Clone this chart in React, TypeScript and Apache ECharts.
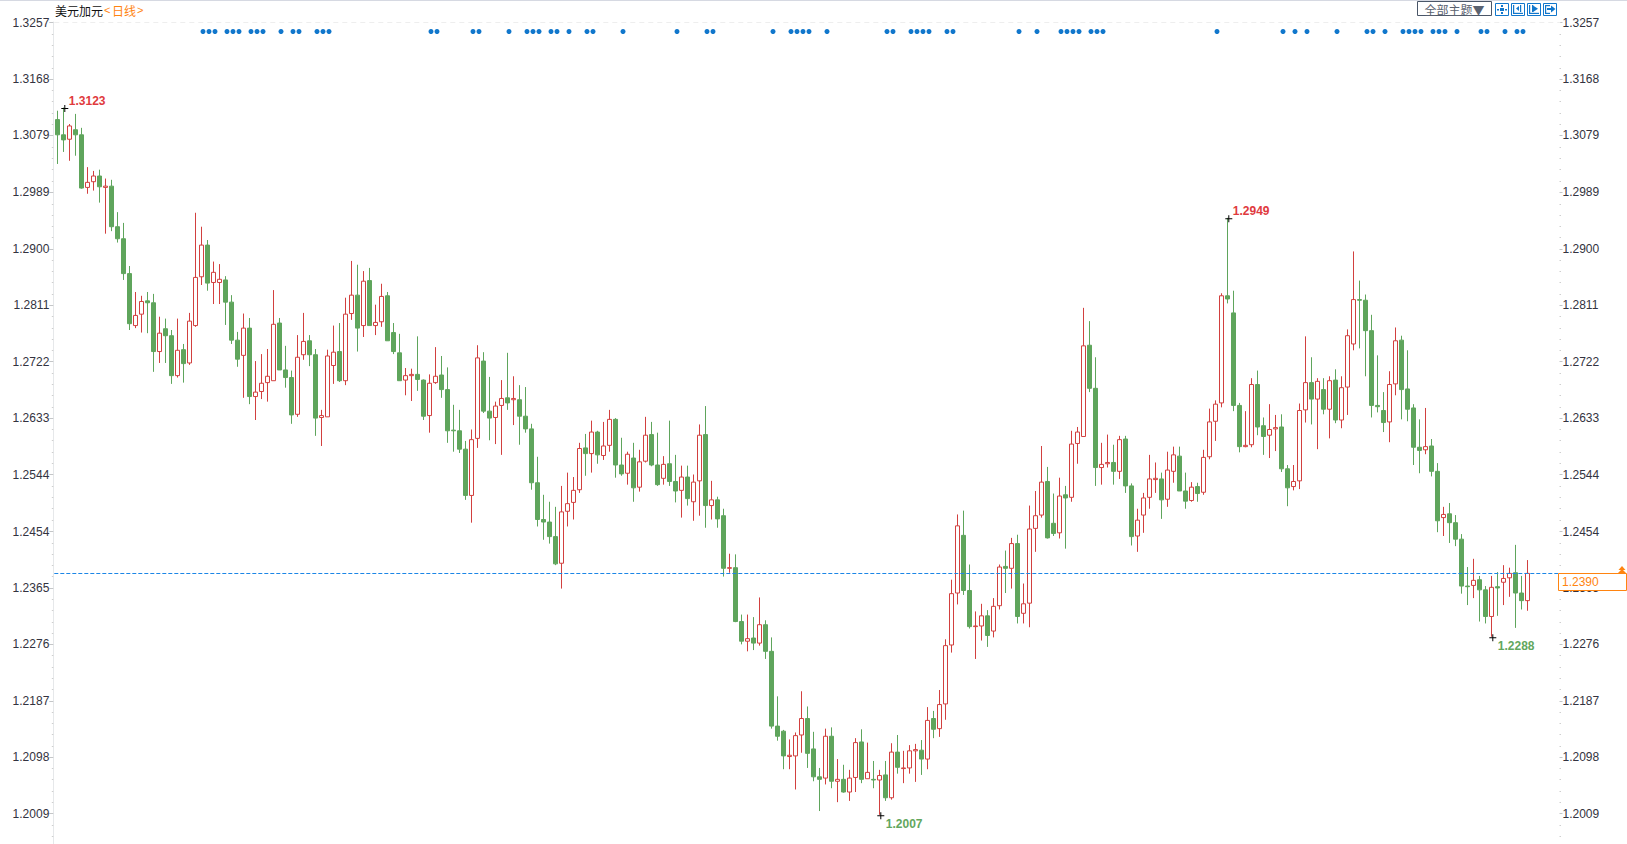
import React, { useEffect, useRef } from "react";
import * as echarts from "echarts";

const opens = [
1.3104,1.3080,1.3073,1.3088,1.3080,1.2997,1.3006,1.3015,1.2997,1.2999,
1.2935,1.2916,1.2861,1.2779,1.2797,1.2818,1.2815,1.2738,1.2774,1.2763,
1.2700,1.2741,1.2720,1.2779,1.2856,1.2906,1.2847,1.2847,1.2851,1.2816,
1.2756,1.2732,1.2775,1.2667,1.2675,1.2689,1.2692,1.2783,1.2709,1.2697,
1.2639,1.2733,1.2755,1.2733,1.2634,1.2635,1.2716,1.2738,1.2692,1.2798,
1.2827,1.2779,1.2850,1.2779,1.2785,1.2826,1.2768,1.2736,1.2693,1.2700,
1.2702,1.2693,1.2637,1.2689,1.2701,1.2678,1.2614,1.2613,1.2584,1.2511,
1.2601,1.2723,1.2644,1.2634,1.2653,1.2665,1.2662,1.2662,1.2636,1.2616,
1.2531,1.2473,1.2469,1.2446,1.2404,1.2486,1.2500,1.2520,1.2586,1.2577,
1.2611,1.2574,1.2590,1.2631,1.2559,1.2546,1.2570,1.2524,1.2565,1.2607,
1.2559,1.2538,1.2561,1.2533,1.2519,1.2540,1.2501,1.2534,1.2607,1.2495,
1.2504,1.2479,1.2396,1.2397,1.2312,1.2281,1.2286,1.2278,1.2307,1.2265,
1.2147,1.2139,1.2099,1.2100,1.2133,1.2159,1.2111,1.2067,1.2065,1.2131,
1.2060,1.2063,1.2043,1.2066,1.2122,1.2064,1.2063,1.2062,1.2070,1.2034,
1.2106,1.2080,1.2081,1.2108,1.2109,1.2095,1.2159,1.2143,1.2182,1.2275,
1.2357,1.2448,1.2361,1.2304,1.2305,1.2321,1.2297,1.2337,1.2399,1.2396,
1.2435,1.2325,1.2341,1.2459,1.2480,1.2533,1.2467,1.2452,1.2512,1.2508,
1.2593,1.2604,1.2748,1.2680,1.2555,1.2561,1.2563,1.2549,1.2600,1.2526,
1.2447,1.2480,1.2508,1.2536,1.2537,1.2505,1.2549,1.2573,1.2518,1.2503,
1.2525,1.2516,1.2572,1.2628,1.2657,1.2826,1.2799,1.2653,1.2588,1.2591,
1.2686,1.2621,1.2606,1.2616,1.2619,1.2553,1.2525,1.2534,1.2646,1.2689,
1.2663,1.2678,1.2647,1.2693,1.2630,1.2682,1.2750,1.2820,1.2819,1.2771,
1.2653,1.2645,1.2627,1.2687,1.2756,1.2679,1.2649,1.2587,1.2583,1.2589,
1.2549,1.2476,1.2482,1.2468,1.2442,1.2368,1.2369,1.2378,1.2362,1.2320,
1.2367,1.2374,1.2381,1.2389,1.2357,1.2345];

const closes = [
1.3080,1.3072,1.3094,1.3080,1.2996,1.3005,1.3015,1.2998,1.2999,1.2935,
1.2916,1.2861,1.2782,1.2795,1.2817,1.2815,1.2738,1.2767,1.2763,1.2700,
1.2740,1.2719,1.2786,1.2855,1.2906,1.2846,1.2863,1.2852,1.2816,1.2756,
1.2726,1.2775,1.2667,1.2674,1.2688,1.2699,1.2781,1.2709,1.2697,1.2638,
1.2729,1.2754,1.2733,1.2633,1.2637,1.2731,1.2737,1.2692,1.2797,1.2827,
1.2775,1.2849,1.2779,1.2784,1.2825,1.2755,1.2738,1.2692,1.2700,1.2702,
1.2694,1.2636,1.2688,1.2699,1.2678,1.2613,1.2613,1.2584,1.2511,1.2599,
1.2728,1.2644,1.2633,1.2652,1.2664,1.2657,1.2664,1.2636,1.2616,1.2531,
1.2473,1.2469,1.2446,1.2403,1.2485,1.2498,1.2519,1.2585,1.2577,1.2611,
1.2575,1.2589,1.2631,1.2559,1.2545,1.2576,1.2523,1.2564,1.2606,1.2559,
1.2528,1.2560,1.2533,1.2518,1.2540,1.2506,1.2532,1.2606,1.2495,1.2504,
1.2474,1.2396,1.2397,1.2312,1.2281,1.2285,1.2278,1.2307,1.2265,1.2147,
1.2131,1.2100,1.2101,1.2132,1.2159,1.2104,1.2067,1.2063,1.2131,1.2060,
1.2063,1.2043,1.2065,1.2121,1.2063,1.2074,1.2062,1.2069,1.2034,1.2106,
1.2082,1.2081,1.2108,1.2110,1.2095,1.2156,1.2142,1.2181,1.2274,1.2356,
1.2463,1.2361,1.2304,1.2305,1.2321,1.2290,1.2336,1.2398,1.2396,1.2435,
1.2320,1.2340,1.2458,1.2479,1.2532,1.2444,1.2451,1.2510,1.2507,1.2592,
1.2611,1.2747,1.2680,1.2555,1.2560,1.2563,1.2549,1.2599,1.2526,1.2446,
1.2472,1.2507,1.2537,1.2538,1.2504,1.2551,1.2575,1.2518,1.2502,1.2524,
1.2514,1.2571,1.2627,1.2655,1.2826,1.2821,1.2653,1.2588,1.2590,1.2686,
1.2619,1.2604,1.2615,1.2618,1.2553,1.2523,1.2533,1.2645,1.2689,1.2663,
1.2691,1.2647,1.2692,1.2630,1.2681,1.2763,1.2820,1.2819,1.2771,1.2653,
1.2651,1.2626,1.2686,1.2755,1.2678,1.2647,1.2587,1.2582,1.2588,1.2549,
1.2471,1.2481,1.2468,1.2442,1.2368,1.2367,1.2377,1.2362,1.2320,1.2366,
1.2365,1.2380,1.2388,1.2357,1.2345,1.2388];

const highs = [
1.3118,1.3123,1.3097,1.3113,1.3091,1.3029,1.3023,1.3025,1.3011,1.3009,
1.2958,1.2941,1.2873,1.2832,1.2826,1.2832,1.2829,1.2793,1.2790,1.2772,
1.2790,1.2750,1.2799,1.2957,1.2935,1.2914,1.2880,1.2876,1.2857,1.2827,
1.2769,1.2798,1.2791,1.2723,1.2734,1.2742,1.2835,1.2791,1.2747,1.2708,
1.2764,1.2799,1.2764,1.2742,1.2646,1.2741,1.2779,1.2783,1.2823,1.2881,
1.2875,1.2865,1.2870,1.2812,1.2845,1.2832,1.2783,1.2766,1.2712,1.2711,
1.2762,1.2694,1.2702,1.2745,1.2731,1.2713,1.2654,1.2646,1.2597,1.2615,
1.2748,1.2737,1.2698,1.2659,1.2693,1.2736,1.2699,1.2685,1.2682,1.2624,
1.2572,1.2512,1.2501,1.2493,1.2526,1.2547,1.2540,1.2594,1.2608,1.2629,
1.2613,1.2627,1.2646,1.2633,1.2602,1.2580,1.2594,1.2583,1.2635,1.2627,
1.2610,1.2573,1.2629,1.2575,1.2558,1.2558,1.2544,1.2623,1.2652,1.2534,
1.2509,1.2490,1.2419,1.2418,1.2323,1.2323,1.2319,1.2350,1.2314,1.2287,
1.2194,1.2141,1.2126,1.2137,1.2202,1.2178,1.2138,1.2081,1.2143,1.2145,
1.2095,1.2086,1.2078,1.2128,1.2142,1.2121,1.2092,1.2078,1.2092,1.2120,
1.2133,1.2108,1.2117,1.2119,1.2125,1.2177,1.2171,1.2204,1.2284,1.2378,
1.2481,1.2487,1.2402,1.2328,1.2340,1.2330,1.2349,1.2402,1.2424,1.2444,
1.2449,1.2372,1.2495,1.2518,1.2589,1.2556,1.2514,1.2539,1.2526,1.2613,
1.2619,1.2807,1.2786,1.2729,1.2594,1.2607,1.2591,1.2605,1.2605,1.2530,
1.2490,1.2515,1.2575,1.2563,1.2547,1.2580,1.2588,1.2588,1.2547,1.2532,
1.2531,1.2583,1.2648,1.2661,1.2830,1.2949,1.2834,1.2657,1.2644,1.2696,
1.2708,1.2634,1.2655,1.2638,1.2639,1.2559,1.2559,1.2656,1.2762,1.2729,
1.2696,1.2696,1.2699,1.2710,1.2699,1.2773,1.2896,1.2850,1.2828,1.2796,
1.2732,1.2674,1.2707,1.2776,1.2763,1.2740,1.2655,1.2631,1.2649,1.2600,
1.2562,1.2493,1.2499,1.2480,1.2450,1.2398,1.2411,1.2384,1.2368,1.2384,
1.2390,1.2401,1.2397,1.2433,1.2384,1.2409];

const lows = [
1.3034,1.3053,1.3039,1.3047,1.2995,1.2987,1.2992,1.2973,1.2924,1.2928,
1.2910,1.2851,1.2772,1.2775,1.2768,1.2767,1.2706,1.2720,1.2720,1.2687,
1.2697,1.2689,1.2717,1.2777,1.2843,1.2834,1.2813,1.2813,1.2780,1.2750,
1.2714,1.2665,1.2655,1.2630,1.2663,1.2659,1.2692,1.2709,1.2681,1.2624,
1.2635,1.2725,1.2715,1.2605,1.2589,1.2635,1.2687,1.2690,1.2685,1.2788,
1.2738,1.2761,1.2779,1.2764,1.2777,1.2755,1.2734,1.2692,1.2669,1.2660,
1.2676,1.2630,1.2610,1.2687,1.2665,1.2594,1.2580,1.2578,1.2504,1.2468,
1.2586,1.2641,1.2598,1.2592,1.2575,1.2646,1.2622,1.2591,1.2610,1.2520,
1.2462,1.2441,1.2435,1.2401,1.2364,1.2462,1.2473,1.2515,1.2542,1.2547,
1.2561,1.2567,1.2580,1.2539,1.2542,1.2528,1.2501,1.2517,1.2563,1.2557,
1.2526,1.2528,1.2526,1.2500,1.2476,1.2495,1.2471,1.2479,1.2460,1.2473,
1.2460,1.2383,1.2389,1.2311,1.2276,1.2265,1.2267,1.2274,1.2253,1.2143,
1.2124,1.2079,1.2079,1.2047,1.2105,1.2081,1.2060,1.2013,1.2055,1.2049,
1.2027,1.2042,1.2029,1.2043,1.2057,1.2064,1.2049,1.2007,1.2029,1.2031,
1.2072,1.2057,1.2072,1.2059,1.2070,1.2079,1.2128,1.2130,1.2157,1.2263,
1.2339,1.2354,1.2301,1.2253,1.2282,1.2272,1.2287,1.2331,1.2357,1.2364,
1.2309,1.2309,1.2303,1.2422,1.2476,1.2443,1.2447,1.2443,1.2427,1.2501,
1.2561,1.2604,1.2674,1.2526,1.2528,1.2555,1.2528,1.2537,1.2515,1.2432,
1.2422,1.2452,1.2490,1.2515,1.2474,1.2493,1.2531,1.2518,1.2490,1.2501,
1.2501,1.2512,1.2568,1.2597,1.2650,1.2814,1.2644,1.2579,1.2587,1.2587,
1.2606,1.2575,1.2570,1.2581,1.2548,1.2494,1.2519,1.2521,1.2626,1.2623,
1.2584,1.2639,1.2601,1.2625,1.2617,1.2638,1.2740,1.2743,1.2699,1.2634,
1.2642,1.2611,1.2595,1.2669,1.2631,1.2628,1.2559,1.2546,1.2576,1.2541,
1.2453,1.2447,1.2436,1.2431,1.2356,1.2338,1.2349,1.2312,1.2309,1.2288,
1.2321,1.2338,1.2351,1.2302,1.2331,1.2329];

const tickLabels = [1.3257,1.3168,1.3079,1.2989,1.2900,1.2811,1.2722,1.2633,1.2544,1.2454,1.2365,1.2276,1.2187,1.2098,1.2009];
const eventIndexes = [24,25,26,28,29,30,32,33,34,37,39,40,43,44,45,62,63,69,70,75,78,79,80,82,83,85,88,89,94,
103,108,109,119,122,123,124,125,128,138,139,142,143,144,145,148,149,160,163,167,168,
169,170,172,173,174,193,204,206,208,213,218,219,221,224,225,226,227,229,230,231,233,237,238,241,243,244];
const eventRowValue = 1.3243;
const peakIndexes = [1,195];
const peakValues = [1.3123,1.2949];
const troughIndexes = [137,239];
const troughValues = [1.2007,1.2288];
const lastLineValue = 1.2388;
const lastPriceLabel = "1.2390";
const instrumentName = "美元加元";
const periodName = "日线";
const themeLabel = "全部主题▼";

const AXIS_MIN = 1.1961;
const AXIS_MAX = 1.3258;
const RED = "#d2403f";
const GREEN = "#5fa55c";
const BLUE = "#1177cc";
const ORANGE = "#ff8410";
const LABEL_FONT = "'Liberation Sans', Arial, sans-serif";
const CJK_FONT = "'Noto Sans CJK SC', 'Liberation Sans', sans-serif";
const CROSS = "path://M0,3 H7 V4 H0 Z M3,0 H4 V7 H3 Z";

const categories = Array.from({ length: 251 }, (_, i) => String(i));

const minorTicks: number[] = [];
tickLabels.forEach((t, i) => {
  const next = i < tickLabels.length - 1 ? tickLabels[i + 1] : t - 0.0089;
  for (let k = 1; k < 5; k++) minorTicks.push(t + ((next - t) * k) / 5);
});

const yBase = { type: "value", min: AXIS_MIN, max: AXIS_MAX, scale: true, splitLine: { show: false } };

function yAxes() {
  const major = (position: string, offset: number, margin: number, len: number, line: boolean) => ({
    ...yBase,
    position,
    offset,
    axisLine: { show: line, lineStyle: { color: "#e6e8ea", width: 1 } },
    axisTick: { show: true, length: len, customValues: tickLabels, lineStyle: { color: "#c4c6c8" } },
    axisLabel: {
      show: true,
      customValues: tickLabels,
      formatter: (v: number) => v.toFixed(4),
      margin,
      color: "#333340",
      fontSize: 12,
      fontFamily: LABEL_FONT,
    },
  });
  const minor = (position: string, offset: number) => ({
    ...yBase,
    position,
    offset,
    axisLine: { show: false },
    axisTick: { show: true, length: 1.5, customValues: minorTicks, lineStyle: { color: "#cfcfcf" } },
    axisLabel: { show: false },
  });
  return [major("left", 1, 4, 4, true), major("right", -0.8, 3, 3, false), minor("left", 1), minor("right", -0.8)];
}

function iconFrame(x: number) {
  return {
    type: "rect",
    shape: { x: x + 0.5, y: 3.5, width: 13, height: 12 },
    style: { fill: "#fff", stroke: BLUE, lineWidth: 1 },
    z: 100,
  };
}
const bar = (x: number, y: number, w: number, h: number, fill = BLUE) => ({
  type: "rect",
  shape: { x, y, width: w, height: h },
  style: { fill },
  z: 101,
});
const tri = (points: number[][], fill = BLUE) => ({
  type: "polygon",
  shape: { points },
  style: { fill },
  z: 101,
});

function graphics() {
  return [
    bar(0, 0, 1627, 1, "#d6d9e2"),
    {
      type: "text", x: 55, y: 10, z: 100,
      style: { text: instrumentName, fill: "#111", font: `12px ${CJK_FONT}`, textAlign: "left", textVerticalAlign: "middle" },
    },
    {
      type: "text", x: 104, y: 10, z: 100,
      style: { text: "<", fill: ORANGE, font: `11px ${LABEL_FONT}`, textAlign: "left", textVerticalAlign: "middle" },
    },
    {
      type: "text", x: 112, y: 10, z: 100,
      style: { text: periodName, fill: ORANGE, font: `12px ${CJK_FONT}`, textAlign: "left", textVerticalAlign: "middle" },
    },
    {
      type: "text", x: 137, y: 10, z: 100,
      style: { text: ">", fill: ORANGE, font: `11px ${LABEL_FONT}`, textAlign: "left", textVerticalAlign: "middle" },
    },
    {
      type: "rect", z: 100,
      shape: { x: 1417.5, y: 1.5, width: 74, height: 14 },
      style: { fill: "#fff", stroke: "#4a5668", lineWidth: 1 },
    },
    {
      type: "text", x: 1454.5, y: 9, z: 101,
      style: { text: themeLabel, fill: "#5a6270", font: `12px ${CJK_FONT}`, textAlign: "center", textVerticalAlign: "middle" },
    },
    iconFrame(1495),
    bar(1500, 8, 4, 3), bar(1501, 5, 2, 2), bar(1501, 12, 2, 2), bar(1497, 9, 2, 1.5), bar(1505, 9, 2, 1.5),
    iconFrame(1511),
    bar(1513, 5, 1.2, 9), bar(1513, 12.8, 10, 1.2), bar(1520, 5, 1.2, 7), tri([[1519, 6], [1519, 11], [1516, 8.5]]),
    iconFrame(1527),
    bar(1529, 5, 1.2, 9), bar(1529, 12.8, 10, 1.2), bar(1532, 5, 1.2, 7), tri([[1533, 5.5], [1533, 12], [1538, 8.7]]),
    iconFrame(1543),
    bar(1545, 5, 1.2, 9), bar(1545, 5, 5, 1.2), bar(1545, 12.8, 5, 1.2), bar(1547, 8, 4, 2), tri([[1551, 5.5], [1551, 12.5], [1555.5, 9]]),
    {
      type: "rect", z: 100,
      shape: { x: 1558.5, y: 573.5, width: 68, height: 17 },
      style: { fill: "#fff", stroke: ORANGE, lineWidth: 1 },
    },
    {
      type: "text", x: 1562, y: 582, z: 101,
      style: { text: lastPriceLabel, fill: ORANGE, font: `12px ${LABEL_FONT}`, textAlign: "left", textVerticalAlign: "middle" },
    },
    tri([[1622, 566], [1618.5, 570], [1625.5, 570]], ORANGE),
    tri([[1622, 569], [1618, 573], [1626, 573]], ORANGE),
  ];
}

function extremeSeries(indexes: number[], values: number[], color: string, dy: number, gap: number) {
  return {
    type: "scatter",
    xAxisIndex: 0,
    yAxisIndex: 0,
    symbol: CROSS,
    symbolSize: 7,
    symbolOffset: [1.5, 1],
    itemStyle: { color: "#000", opacity: 1 },
    z: 6,
    silent: true,
    label: {
      show: true,
      position: "right",
      distance: gap,
      offset: [0, dy],
      color,
      fontWeight: "bold",
      fontSize: 12,
      fontFamily: LABEL_FONT,
      formatter: (p: any) => p.value[1].toFixed(4),
    },
    data: indexes.map((i, k) => [i, values[k]]),
  };
}

export default function App() {
  const ref = useRef<HTMLDivElement>(null);
  useEffect(() => {
    if (!ref.current) return;
    const chart = echarts.init(ref.current, undefined, { renderer: "svg" });
    chart.setOption({
      animation: false,
      backgroundColor: "#fff",
      grid: { left: 54.3, top: 22, width: 1506, height: 822, containLabel: false },
      xAxis: {
        type: "category",
        data: categories,
        boundaryGap: true,
        axisLine: { show: false },
        axisTick: { show: false },
        axisLabel: { show: false },
        splitLine: { show: false },
      },
      yAxis: yAxes(),
      series: [
        {
          type: "candlestick",
          xAxisIndex: 0,
          yAxisIndex: 0,
          barWidth: 4,
          data: opens.map((o, i) => [o, closes[i], lows[i], highs[i]]),
          itemStyle: {
            color: "#ffffff",
            color0: GREEN,
            borderColor: RED,
            borderColor0: GREEN,
            borderColorDoji: RED,
            borderWidth: 1,
          },
          markLine: {
            silent: true,
            precision: 4,
            symbol: ["none", "none"],
            label: { show: false },
            animation: false,
            data: [
              { yAxis: lastLineValue, lineStyle: { color: "#1c86e6", type: [4, 2], width: 1 } },
              { yAxis: tickLabels[0], lineStyle: { color: "#eeeeee", type: [5, 4], width: 1 } },
            ],
          },
        },
        {
          type: "scatter",
          xAxisIndex: 0,
          yAxisIndex: 0,
          symbol: "circle",
          symbolSize: 5,
          symbolOffset: [1.7, 0],
          itemStyle: { color: BLUE, opacity: 1 },
          silent: true,
          data: eventIndexes.map((i) => [i, eventRowValue]),
        },
        extremeSeries(peakIndexes, peakValues, "#e03a3e", -8, 0.5),
        extremeSeries(troughIndexes, troughValues, "#62a75e", 8, 1.5),
      ],
      graphic: { elements: graphics() },
    });
    return () => chart.dispose();
  }, []);
  return <div ref={ref} style={{ position: "fixed", left: 0, top: 0, width: 1627, height: 844 }} />;
}
